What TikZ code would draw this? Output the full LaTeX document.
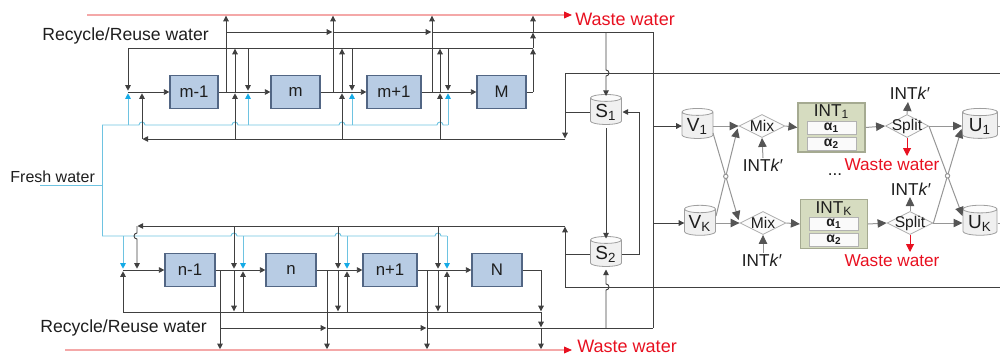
\documentclass[tikz,border=0pt]{standalone}
\usepackage{fontspec}
\setmainfont{Liberation Sans}
\usetikzlibrary{arrows.meta,shapes.geometric,calc,intersections}
\definecolor{lnc}{RGB}{64,64,64}
\definecolor{cyl}{RGB}{110,195,225}
\definecolor{cya}{RGB}{20,170,230}
\definecolor{rl}{RGB}{244,168,168}
\definecolor{rd}{RGB}{232,16,32}
\definecolor{ubf}{RGB}{184,204,228}
\definecolor{ubd}{RGB}{82,102,132}
\definecolor{gl}{RGB}{150,150,150}
\definecolor{ga}{RGB}{85,85,85}
\definecolor{intf}{RGB}{214,220,192}
\definecolor{intd}{RGB}{165,170,145}
\definecolor{txt}{RGB}{30,30,30}
\tikzset{
  ln/.style={draw=lnc, line width=0.45pt},
  ar/.style={ln, -{Triangle[length=2.8pt,width=2.8pt]}},
  cl/.style={draw=cyl, line width=0.45pt},
  ca/.style={cl, -{Triangle[length=2.8pt,width=2.8pt,color=cya]}},
  rline/.style={draw=rl, line width=0.55pt, -{Triangle[length=4pt,width=3.4pt,color=rd]}},
  rarr/.style={draw=rd, line width=0.5pt, -{Triangle[length=4pt,width=4pt,color=rd]}},
  unitbox/.style={draw=ubd, fill=ubf, line width=0.6pt, minimum height=16.5pt, inner sep=0pt, text=txt, font=\fontsize{8.4}{9}\selectfont},
  lbl/.style={inner sep=0pt, text=txt, anchor=base west, font=\fontsize{8.8}{10}\selectfont},
  wt/.style={inner sep=0pt, text=rd, anchor=base west, font=\fontsize{9}{10}\selectfont},
  tank/.style={cylinder, shape border rotate=90, aspect=0.3, draw=gray!75, cylinder uses custom fill, cylinder body fill=gray!12, cylinder end fill=gray!3, minimum width=15.5pt, minimum height=15pt, inner sep=0.5pt, text=txt, font=\fontsize{9.5}{10}\selectfont},
  gln/.style={draw=gl, line width=0.5pt},
  gar/.style={gln, -{Triangle[length=4.5pt,width=4.2pt,color=ga]}},
  dia/.style={diamond, draw=gray!65, fill=gray!3, aspect=2, minimum width=23pt, minimum height=11.5pt, inner sep=0pt},
  dlbl/.style={text=txt, font=\fontsize{7.8}{9}\selectfont, inner sep=0pt},
  intbox/.style={draw=intd, fill=intf, line width=0.6pt, minimum width=33.5pt, minimum height=24.5pt, inner sep=0pt},
  abox/.style={draw=gray!60, fill=gray!4, minimum width=24.5pt, minimum height=6.5pt, inner sep=0pt, text=txt, font=\bfseries\fontsize{7}{7}\selectfont},
  ik/.style={inner sep=0pt, text=txt, anchor=base, font=\fontsize{8.6}{10}\selectfont},
  wr/.style={inner sep=0pt, text=rd, anchor=base, font=\fontsize{8.6}{10}\selectfont},
  ttl/.style={inner sep=0pt, text=txt, font=\fontsize{8.6}{10}\selectfont},
  hopmark/.style={gln, fill=white},
}
\begin{document}
\begin{tikzpicture}[x=0.5pt,y=-0.5pt]
\useasboundingbox (0,0) rectangle (1000,354);

% ---------- texts
\node[lbl] (rtop) at (42,40.5) {Recycle/Reuse water};
\node[lbl] (rbot) at (40,332) {Recycle/Reuse water};
\node[lbl, font=\fontsize{8}{9}\selectfont] (fw) at (10,182) {Fresh water};
\node[wt] (wtop) at (575,25.5) {Waste water};
\node[wt] (wbot) at (577,352) {Waste water};

% ---------- red waste lines
\coordinate (redTopStart) at (87,15);
\coordinate (redTopEnd) at (572,15);
\coordinate (redBotStart) at (65,350);
\coordinate (redBotEnd) at (572,350);
\draw[rline] (redTopStart) -- (redTopEnd);
\draw[rline] (redBotStart) -- (redBotEnd);

% ---------- units
\node[unitbox, minimum width=24pt] (m1) at (194,92) {m-1};
\node[unitbox, minimum width=24.5pt] (m) at (295.5,92) {m};
\node[unitbox, minimum width=27pt] (mp) at (394,92) {m+1};
\node[unitbox, minimum width=24.5pt] (M) at (501.5,92) {M};
\node[unitbox, minimum width=25pt] (n1) at (190,270) {n-1};
\node[unitbox, minimum width=25pt] (n) at (291,270) {n};
\node[unitbox, minimum width=27pt] (np) at (390,270) {n+1};
\node[unitbox, minimum width=25pt] (N) at (497,270) {N};

% ---------- fresh water (cyan)
\draw[cl] (40,185) -- (102,185);
\draw[cl] (102,125) -- (102,236);
\draw[cl] (102,125) -- (139,125) arc[start angle=180,end angle=0,radius=1.5pt]
  -- (232,125) arc[start angle=180,end angle=0,radius=1.5pt]
  -- (339,125) arc[start angle=180,end angle=0,radius=1.5pt]
  -- (437,125) arc[start angle=180,end angle=0,radius=1.5pt] -- (448,125);
\draw[cl] (102,236) -- (231,236) arc[start angle=180,end angle=0,radius=1.5pt]
  -- (335,236) arc[start angle=180,end angle=0,radius=1.5pt]
  -- (435,236) arc[start angle=180,end angle=0,radius=1.5pt] -- (447,236);
\foreach \x in {128,248,352,448}{\draw[ca] (\x,125) -- (\x,93.3);}
\foreach \x in {123,243,347,447}{\draw[ca] (\x,236) -- (\x,268.7);}

% ---------- top row network
\draw[ln] (128,48) -- (533,48);
\draw[ar] (226,32) -- (332.3,32);
\draw[ar] (333,32) -- (431.3,32);
\draw[ln] (432,32) -- (653,32) -- (653,328);
\draw[ar] (128,48) -- (128,90.7);
\draw[ar] (128,92) -- (m1.west);
\draw[ar] (m1.east) -- (m.west);
\draw[ar] (m.east) -- (mp.west);
\draw[ar] (mp.east) -- (M.west);
\draw[ln] (M.east) -- (533,92);
\draw[ar] (565,139) -- (142.5,139);
\draw[ar] (142,139) -- (142,93.3);
\foreach \x in {235,342,440}{\draw[ar] (\x,139) -- (\x,93.3); \draw[ar] (\x,92) -- (\x,48.7);}
\foreach \x in {248,352,448}{\draw[ar] (\x,48) -- (\x,90.7);}
\foreach \x in {226,333,432}{\draw[ar] (\x,92) -- (\x,15.7);}
\draw[ar] (533,92) -- (533,48.7);
\draw[ar] (533,48) -- (533,32.7);
\draw[ar] (533,32) -- (533,15.7);

% ---------- bottom row network
\draw[ar] (565,287) -- (565,226.7);
\draw[ar] (565,226) -- (137.5,226);
\draw[ar] (137,226) -- (137,233) arc[start angle=90,end angle=270,radius=1.5pt] -- (137,268.7);
\draw[ln] (123,312) -- (541,312);
\draw[ar] (123,312) -- (123,271.3);
\draw[ar] (123,270) -- (n1.west);
\draw[ar] (n1.east) -- (n.west);
\draw[ar] (n.east) -- (np.west);
\draw[ar] (np.east) -- (N.west);
\draw[ln] (N.east) -- (541,270);
\foreach \x in {234,338,438}{\draw[ar] (\x,226) -- (\x,268.7); \draw[ar] (\x,270) -- (\x,311.3);}
\foreach \x in {243,347,447}{\draw[ar] (\x,312) -- (\x,271.3);}
\foreach \x in {220,327,427}{\draw[ar] (\x,270) -- (\x,349.2);}
\draw[ar] (541,270) -- (541,311.3);
\draw[ar] (541,312) -- (541,327.3);
\draw[ar] (541,328) -- (541,349.2);
\draw[ar] (220,328) -- (326.3,328);
\draw[ar] (327,328) -- (426.3,328);
\draw[ln] (427,328) -- (653,328);

% ---------- storage tanks
\node[tank] (S1) at (606,112) {S\textsubscript{1}};
\node[tank] (S2) at (606,254) {S\textsubscript{2}};
\draw[ln] (565,73) -- (1000,73);
\draw[ln] (565,287) -- (1000,287);
\draw[ar] (606,32) -- (606,70) arc[start angle=90,end angle=-90,radius=1.5pt] -- ($(S1)+(0,-16)$);
\draw[ln] ($(S1)+(-16,0)$) -- (565,112);
\draw[ar] (565,73) -- (565,138.3);
\draw[ln] ($(S2)+(16,0)$) -- (639,254) -- (639,112);
\draw[ar] (639,112) -- ($(S1)+(16.5,0)$);
\draw[ar] ($(S1)+(0,16)$) -- ($(S2)+(0,-15.5)$);
\draw[ar] (606,328) -- (606,290) arc[start angle=-90,end angle=90,radius=1.5pt] -- ($(S2)+(0,15.5)$);
\draw[ln] ($(S2)+(-16,0)$) -- (565,254);

% ---------- right panel
\node[tank] (V1) at (697.5,126) {V\textsubscript{1}};
\node[tank] (VK) at (700,223) {V\textsubscript{K}};
\node[tank, minimum width=17.5pt] (U1) at (980,126) {U\textsubscript{1}};
\node[tank, minimum width=17pt] (UK) at (980,223) {U\textsubscript{K}};
\node[dia, label={[dlbl]center:Mix}] (X1) at (762,126) {};
\node[dia, label={[dlbl]center:Mix}] (X2) at (763,223) {};
\node[dia, minimum width=21.5pt, label={[dlbl]center:Split}] (P1) at (907,126) {};
\node[dia, minimum width=23pt, label={[dlbl]center:Split}] (P2) at (910,223) {};
\node[intbox] (I1) at (831.5,127.5) {};
\node[ttl] at ($(I1)+(0,-15.5)$) {INT\textsubscript{1}};
\node[abox] (a11) at ($(I1)+(0,0)$) {α\textsubscript{1}};
\node[abox] (a12) at ($(I1)+(0,16.5)$) {α\textsubscript{2}};
\node[intbox] (I2) at (834,224) {};
\node[ttl] at ($(I2)+(0,-15.5)$) {INT\textsubscript{K}};
\node[abox] (a21) at ($(I2)+(0,0)$) {α\textsubscript{1}};
\node[abox] (a22) at ($(I2)+(0,16)$) {α\textsubscript{2}};

\draw[ar] (653,126) -- ($(V1)+(-15.7,0)$);
\draw[ar] (653,223) -- ($(VK)+(-15.7,0)$);
\draw[gar] ($(V1)+(15.5,0)$) -- (X1.west);
\draw[gar] ($(VK)+(15.5,0)$) -- (X2.west);
\draw[gar, name path=dA] ($(V1)+(15.5,7)$) -- ($(X2.west)+(-1,-3)$);
\draw[gar, name path=dB] ($(VK)+(16,-7)$) -- ($(X1.west)+(-1,2.5)$);
\draw[gar] (X1.east) -- (I1.west);
\draw[gar] (X2.east) -- (I2.west);
\draw[gar] (I1.east) -- (P1.west);
\draw[gar] (I2.east) -- (P2.west);
\draw[gar] (P1.east) -- ($(U1)+(-18,0)$);
\draw[gar] (P2.east) -- ($(UK)+(-17.5,0)$);
\draw[gar, name path=dC] (P1.east) -- ($(UK)+(-17.5,-7)$);
\draw[gar, name path=dD] (P2.east) -- ($(U1)+(-18.5,3)$);
\path[name intersections={of=dA and dB, by=hx1}];
\path[name intersections={of=dC and dD, by=hx2}];
\draw[hopmark] (hx1) circle[radius=1.1pt];
\draw[hopmark] (hx2) circle[radius=1.1pt];
\draw[gln] ($(U1)+(18,0)$) -- (1000,126);
\draw[gln] ($(UK)+(17.5,0)$) -- (1000,223);

\node[ik] (k1) at (763,171.5) {INT\textit{k}′};
\node[ik] (k2) at (762,266.5) {INT\textit{k}′};
\node[ik] (k3) at (910,99.5) {INT\textit{k}′};
\node[ik] (k4) at (911,195) {INT\textit{k}′};
\draw[gar] (763,158) -- (X1.south);
\draw[gar] (763,253) -- (X2.south);
\draw[gar] (P1.north) -- (908,102);
\draw[gar] (P2.north) -- (910,197);
\node[wr] (w1) at (892,170) {Waste water};
\node[wr] (w2) at (892,266.5) {Waste water};
\draw[rarr] (P1.south) -- (907,156);
\draw[rarr] (P2.south) -- (910,252);
\node[ttl] (dots) at (835,175) {...};
\end{tikzpicture}
\end{document}
